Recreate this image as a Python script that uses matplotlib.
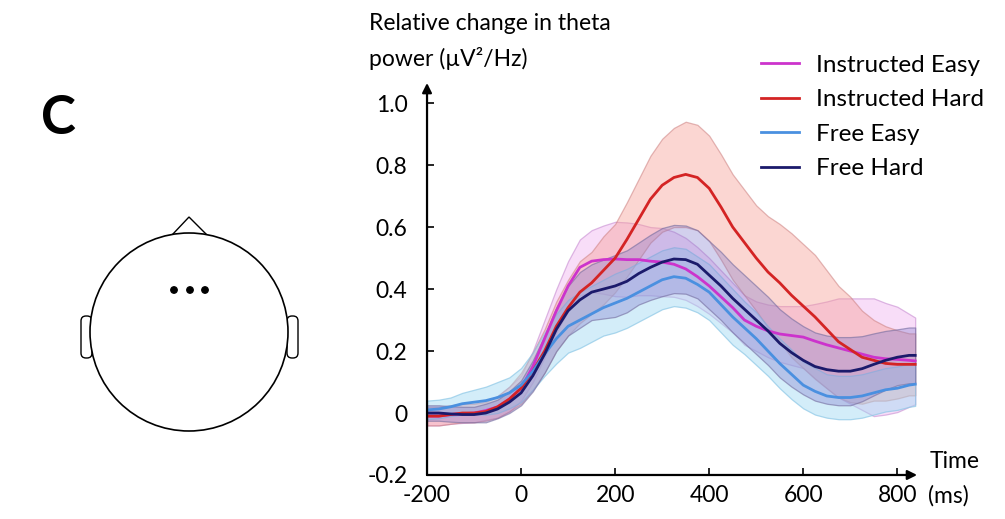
import numpy as np
import matplotlib
matplotlib.use("Agg")
import matplotlib.pyplot as plt
from matplotlib.patches import Circle, Polygon, FancyBboxPatch

plt.rcParams['font.family'] = ['Lato', 'DejaVu Sans']

# time grid in ms (read every 25 ms from the figure)
time = [-200, -175, -150, -125, -100, -75, -50, -25, 0, 25, 50, 75, 100, 125, 150,
        175, 200, 225, 250, 275, 300, 325, 350, 375, 400, 425, 450, 475, 500, 525,
        550, 575, 600, 625, 650, 675, 700, 725, 750, 775, 800, 825, 838]

instr_easy = [-0.01, -0.01, -0.005, -0.002, 0.0, 0.008, 0.02, 0.045, 0.08, 0.15, 0.24,
              0.33, 0.41, 0.47, 0.49, 0.495, 0.497, 0.495, 0.495, 0.49, 0.487, 0.48,
              0.465, 0.44, 0.41, 0.375, 0.34, 0.30, 0.28, 0.265, 0.255, 0.25, 0.245,
              0.232, 0.22, 0.21, 0.20, 0.19, 0.18, 0.175, 0.173, 0.17, 0.168]
instr_hard = [-0.01, -0.01, -0.005, 0.0, 0.0, 0.005, 0.02, 0.045, 0.08, 0.135, 0.20,
              0.28, 0.34, 0.39, 0.42, 0.46, 0.50, 0.56, 0.625, 0.69, 0.735, 0.76,
              0.77, 0.76, 0.725, 0.665, 0.60, 0.55, 0.50, 0.455, 0.42, 0.38, 0.345,
              0.31, 0.27, 0.23, 0.205, 0.18, 0.17, 0.16, 0.157, 0.157, 0.157]
free_easy = [0.01, 0.013, 0.02, 0.03, 0.035, 0.04, 0.05, 0.065, 0.09, 0.135, 0.19,
             0.24, 0.28, 0.30, 0.32, 0.34, 0.355, 0.37, 0.39, 0.41, 0.43, 0.44,
             0.435, 0.415, 0.39, 0.35, 0.31, 0.275, 0.24, 0.20, 0.16, 0.125, 0.09,
             0.07, 0.055, 0.05, 0.05, 0.055, 0.065, 0.075, 0.08, 0.09, 0.093]
free_hard = [0.0, 0.0, -0.003, -0.005, -0.005, 0.0, 0.013, 0.035, 0.065, 0.12, 0.19,
             0.27, 0.33, 0.365, 0.39, 0.40, 0.41, 0.425, 0.45, 0.47, 0.487, 0.497,
             0.495, 0.48, 0.445, 0.41, 0.37, 0.335, 0.30, 0.265, 0.225, 0.195, 0.17,
             0.15, 0.14, 0.135, 0.135, 0.143, 0.157, 0.17, 0.18, 0.186, 0.186]

# shaded error (half-width)
instr_easy_err = [0.03, 0.03, 0.03, 0.03, 0.03, 0.03, 0.035, 0.04, 0.04, 0.05, 0.06,
                  0.07, 0.08, 0.09, 0.10, 0.11, 0.12, 0.12, 0.115, 0.11, 0.11, 0.105,
                  0.10, 0.095, 0.09, 0.085, 0.08, 0.08, 0.08, 0.085, 0.09, 0.095, 0.10,
                  0.12, 0.14, 0.16, 0.17, 0.18, 0.19, 0.18, 0.17, 0.15, 0.14]
instr_hard_err = [0.03, 0.03, 0.03, 0.03, 0.03, 0.03, 0.035, 0.04, 0.05, 0.06, 0.07,
                  0.08, 0.09, 0.10, 0.10, 0.11, 0.11, 0.12, 0.13, 0.14, 0.15, 0.16,
                  0.17, 0.17, 0.17, 0.17, 0.17, 0.17, 0.17, 0.18, 0.19, 0.20, 0.20,
                  0.20, 0.19, 0.18, 0.17, 0.15, 0.13, 0.12, 0.11, 0.10, 0.10]
free_easy_err = [0.03, 0.03, 0.03, 0.035, 0.04, 0.045, 0.05, 0.05, 0.055, 0.06, 0.07,
                 0.08, 0.085, 0.09, 0.09, 0.09, 0.095, 0.095, 0.095, 0.095, 0.095, 0.095,
                 0.095, 0.09, 0.09, 0.09, 0.09, 0.085, 0.085, 0.08, 0.08, 0.08, 0.075,
                 0.075, 0.07, 0.07, 0.07, 0.07, 0.07, 0.07, 0.07, 0.07, 0.07]
free_hard_err = [0.025, 0.025, 0.025, 0.025, 0.025, 0.03, 0.03, 0.035, 0.04, 0.05, 0.06,
                 0.07, 0.08, 0.09, 0.09, 0.095, 0.10, 0.10, 0.10, 0.105, 0.11, 0.11,
                 0.11, 0.11, 0.11, 0.11, 0.11, 0.11, 0.11, 0.11, 0.11, 0.11, 0.11,
                 0.11, 0.11, 0.11, 0.11, 0.105, 0.10, 0.095, 0.09, 0.09, 0.09]

labels = ["Instructed Easy", "Instructed Hard", "Free Easy", "Free Hard"]
means = [instr_easy, instr_hard, free_easy, free_hard]
errs = [instr_easy_err, instr_hard_err, free_easy_err, free_hard_err]
line_colors = ["#CC33CC", "#D42424", "#4A90E0", "#1B1A6B"]
band_colors = [(0.93, 0.62, 0.93, 0.35), (0.97, 0.62, 0.58, 0.42),
               (0.62, 0.85, 0.95, 0.45), (0.50, 0.48, 0.80, 0.35)]
edge_colors = [(0.78, 0.55, 0.82, 0.6), (0.80, 0.50, 0.50, 0.55),
               (0.55, 0.78, 0.90, 0.7), (0.45, 0.42, 0.62, 0.6)]

fig = plt.figure(figsize=(10.05, 5.19), dpi=100)

# head schematic (pixel coordinates of the figure)
hax = fig.add_axes([0, 0, 1, 1])
hax.set_xlim(0, 1005)
hax.set_ylim(519, 0)
hax.axis("off")
hax.add_patch(Polygon([[172, 235], [189, 217], [207, 235]], closed=True,
                      fill=False, ec="black", lw=1.0))
for ex in (80, 286):
    hax.add_patch(FancyBboxPatch((ex + 1, 316), 11, 42,
                                 boxstyle="round,pad=0,rounding_size=5",
                                 fill=True, fc="white", ec="black", lw=1.0))
hax.add_patch(Circle((189, 332), 99, fill=True, fc="white", ec="black", lw=1.2))
for dx in (174, 190, 205):
    hax.add_patch(Circle((dx, 290), 3.2, color="black"))
hax.text(58, 119, "C", fontsize=38, fontweight="bold", ha="center", va="center")

# main time-course axes
ax = fig.add_axes([0.4249, 0.0848, 0.4876, 0.7553])
for m, e, fc, ec in zip(means, errs, band_colors, edge_colors):
    m = np.array(m)
    e = np.array(e)
    ax.fill_between(time, m - e, m + e, facecolor=fc, edgecolor=ec, linewidth=0.9)
for m, c, lab in zip(means, line_colors, labels):
    ax.plot(time, m, color=c, lw=2.0, label=lab)

ax.set_xlim(-200, 842)
ax.set_ylim(-0.2, 1.065)
ax.set_xticks([-200, 0, 200, 400, 600, 800])
ax.set_xticklabels(["-200", "0", "200", "400", "600", "800"])
ax.set_yticks([-0.2, 0, 0.2, 0.4, 0.6, 0.8, 1.0])
ax.set_yticklabels(["-0.2", "0", "0.2", "0.4", "0.6", "0.8", "1.0"])
ax.tick_params(axis="both", direction="in", length=5, width=1.2, labelsize=16.5,
               colors="black")
ax.tick_params(axis="y", pad=14)
ax.tick_params(axis="x", pad=7)
for s in ax.spines.values():
    s.set_visible(False)
ax.annotate("", xy=(0, 1), xytext=(0, 0), xycoords="axes fraction",
            arrowprops=dict(arrowstyle="-|>", lw=1.6, color="black",
                            mutation_scale=14, shrinkA=0, shrinkB=0))
ax.annotate("", xy=(1, 0), xytext=(0, 0), xycoords="axes fraction",
            arrowprops=dict(arrowstyle="-|>", lw=1.6, color="black",
                            mutation_scale=14, shrinkA=0, shrinkB=0))

fig.text(369 / 1005, 1 - 24 / 519, "Relative change in theta", fontsize=16.5,
         ha="left", va="center")
fig.text(369 / 1005, 1 - 59 / 519, "power (\u00b5V\u00b2/Hz)", fontsize=16.5,
         ha="left", va="center")
fig.text(930 / 1005, 1 - 462 / 519, "Time", fontsize=16.5, ha="left", va="center")
fig.text(928 / 1005, 1 - 496 / 519, "(ms)", fontsize=16.5, ha="left", va="center")

fig.legend(loc="upper left", bbox_to_anchor=(0.735, 0.937), frameon=False,
           fontsize=17.5, handlelength=1.6, handletextpad=0.7, labelspacing=0.56)

fig.savefig("out.png", dpi=100)
